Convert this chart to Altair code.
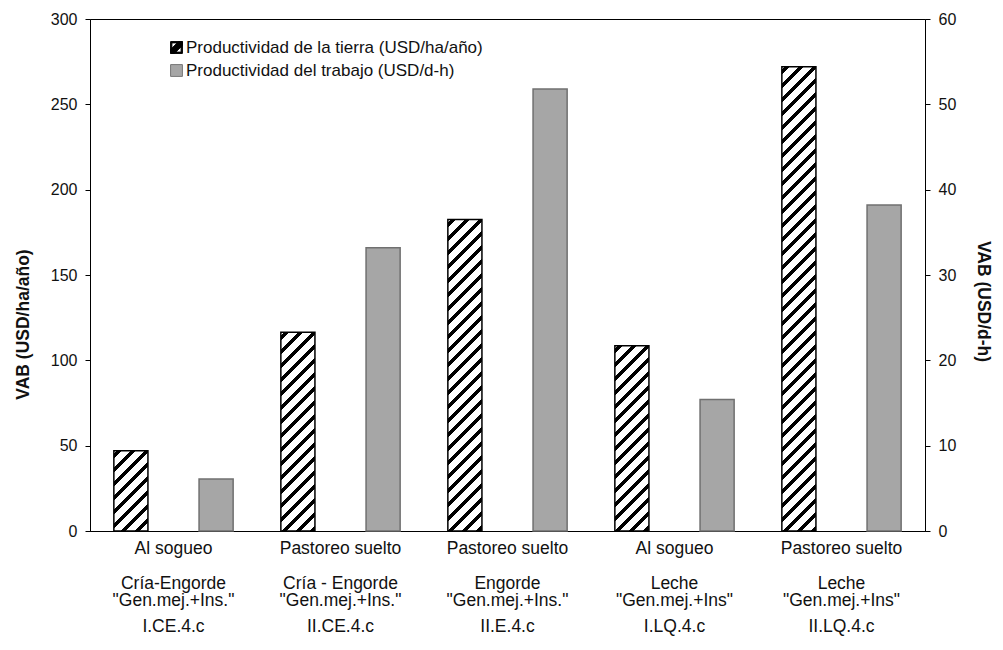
import altair as alt
import pandas as pd

# ---- data ----
metodo = ["Al  sogueo", "Pastoreo  suelto", "Pastoreo  suelto", "Al  sogueo", "Pastoreo  suelto"]
sistema = ["Cría-Engorde", "Cría - Engorde", "Engorde", "Leche", "Leche"]
paquete = ['"Gen.mej.+Ins."', '"Gen.mej.+Ins."', '"Gen.mej.+Ins."', '"Gen.mej.+Ins"', '"Gen.mej.+Ins"']
codigo = ["I.CE.4.c", "II.CE.4.c", "II.E.4.c", "I.LQ.4.c", "II.LQ.4.c"]
tierra = [47, 116.5, 182.5, 108.5, 272]      # USD/ha/año  (left axis)
trabajo = [6.1, 33.2, 51.8, 15.4, 38.2]      # USD/d-h     (right axis)

s_land = "Productividad de la tierra (USD/ha/año)"
s_labor = "Productividad del trabajo (USD/d-h)"

FONT = "Liberation Sans"
W, H = 835, 512
LEFT_MAX, RIGHT_MAX = 300, 60
BAR_W = 34.1
GRAY = "#a6a6a6"
BL = "\u200b"  # blank spacer line (zero-width, not trimmed)

cats = ["|".join([m, BL, BL, BL, s, BL, p, BL, BL, c])
        for m, s, p, c in zip(metodo, sistema, paquete, codigo)]

df_land = pd.DataFrame({"cat": cats, "serie": s_land, "valor": tierra, "idx": range(len(cats))})
df_labor = pd.DataFrame({"cat": cats, "serie": s_labor, "valor": trabajo})

x_enc = alt.X("cat:N", sort=None, scale=alt.Scale(domain=cats, paddingInner=0, paddingOuter=0),
              axis=alt.Axis(title=None, ticks=False, labelAngle=0, labelOverlap=False,
                            labelExpr="split(datum.value, '|')", labelLineHeight=8.75,
                            labelPadding=8, labelFontSize=17.5, labelLimit=400,
                            domainColor="black", labelColor="#111"))
xo_enc = alt.XOffset("serie:N", scale=alt.Scale(domain=[s_land, s_labor], paddingInner=0.6, paddingOuter=0.28))

left_axis = alt.Axis(title="VAB (USD/ha/año)", values=list(range(0, 301, 50)), grid=False,
                     tickSize=5, labelPadding=8, titlePadding=18, labelFontSize=16,
                     titleFontSize=17.5, titleFontWeight="bold", titleY=305, domainColor="black",
                     tickColor="black", labelColor="#111", titleColor="#111")
right_axis = alt.Axis(title="VAB (USD/d-h)", orient="right", values=list(range(0, 61, 10)), grid=False,
                      tickSize=5, labelPadding=8, titlePadding=18, labelFontSize=16,
                      titleFontSize=17.5, titleFontWeight="bold", titleY=282, domainColor="black",
                      tickColor="black", labelColor="#111", titleColor="#111")
y_left = alt.Y("valor:Q", scale=alt.Scale(domain=[0, LEFT_MAX], nice=False), axis=left_axis)


def hatch_gradient(value, period=14.0, dark=5.0, phase=3.0):
    """Diagonal '/' stripes as a sharp-stop linear gradient fitted to the bar's box."""
    h = value / LEFT_MAX * H
    w = BAR_W
    L = w + h
    s = L / (w * w + h * h)
    stops = []
    k = -1
    while True:
        start = k * period + phase
        end = start + dark
        k += 1
        if start >= L:
            break
        if end <= 0:
            continue
        a = round(max(0.0, start) / L, 5)
        b = round(min(L, end) / L, 5)
        stops += [{"offset": a, "color": "white"}, {"offset": a, "color": "black"},
                  {"offset": b, "color": "black"}, {"offset": b, "color": "white"}]
    return {"gradient": "linear", "x1": 0, "y1": 0, "x2": round(s * w, 5), "y2": round(s * h, 5),
            "stops": stops}


land_layers = []
for i, v in enumerate(tierra):
    land_layers.append(
        alt.Chart(df_land).transform_filter(alt.datum.idx == i)
        .mark_bar(fill=hatch_gradient(v), stroke="black", strokeWidth=1.5)
        .encode(x=x_enc, xOffset=xo_enc, y=y_left)
    )

# legend-only layer (no visible marks): custom hatched square symbol + gray square
hatch_path = ("M-1,-1H1V1H-1Z M-0.78,-0.78V0.78H0.78V-0.78Z "
              "M-1,0.35L0.35,-1H1V-0.35L-0.35,1H-1Z")
leg_kw = dict(title=None, orient="none", legendX=78, legendY=20, padding=0,
              symbolSize=140, symbolStrokeWidth=1,
              labelFont=FONT, labelFontSize=17, labelColor="#111", labelOffset=1,
              rowPadding=5, labelLimit=500)
ser_dom = [s_land, s_labor]
legend_layer = (
    alt.Chart(df_land).transform_filter("false")
    .mark_point(filled=True, size=140, strokeWidth=1, opacity=1)
    .encode(x=x_enc, y=y_left,
            shape=alt.Shape("serie:N", scale=alt.Scale(domain=ser_dom, range=[hatch_path, "square"]),
                            legend=alt.Legend(**leg_kw)),
            fill=alt.Fill("serie:N", scale=alt.Scale(domain=ser_dom, range=["black", GRAY]),
                          legend=alt.Legend(**leg_kw)),
            stroke=alt.Stroke("serie:N", scale=alt.Scale(domain=ser_dom, range=["black", "#777777"]),
                              legend=alt.Legend(**leg_kw)))
)

left = alt.layer(*land_layers, legend_layer)

right = (
    alt.Chart(df_labor)
    .mark_bar(fill=GRAY, stroke="#707070", strokeWidth=1.5)
    .encode(x=x_enc, xOffset=xo_enc,
            y=alt.Y("valor:Q", scale=alt.Scale(domain=[0, RIGHT_MAX], nice=False), axis=right_axis))
)

chart = (
    alt.layer(left, right)
    .resolve_scale(y="independent")
    .properties(width=W, height=H,
                autosize=alt.AutoSizeParams(type="none"),
                padding={"left": 82, "top": 11, "right": 70, "bottom": 105})
    .configure(font=FONT)
    .configure_view(stroke="black", strokeWidth=1)
    .configure_axis(labelFont=FONT, titleFont=FONT)
)

chart.save("out.html", embed_options={"renderer": "svg", "actions": False})
